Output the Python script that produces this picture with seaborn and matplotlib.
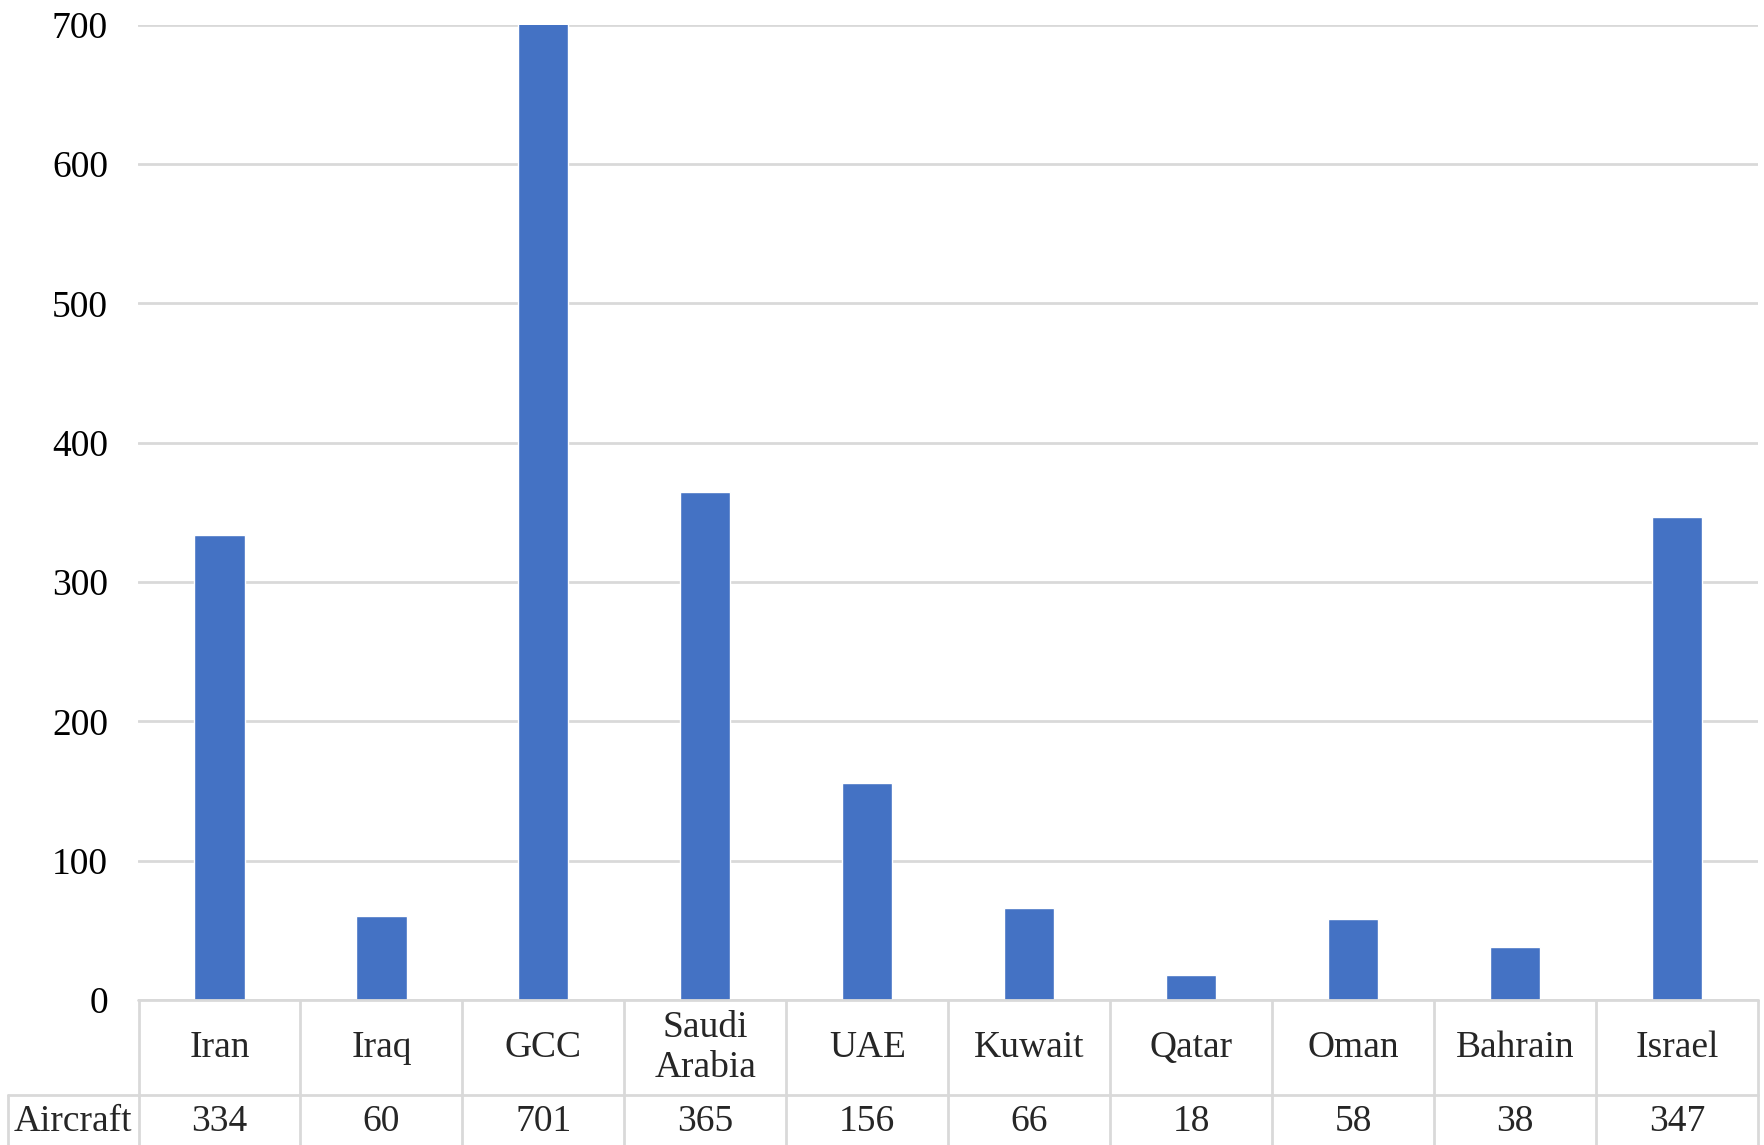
import matplotlib
matplotlib.use("Agg")
import matplotlib.pyplot as plt
import matplotlib.transforms as mtransforms
from matplotlib.lines import Line2D
import seaborn as sns
import pandas as pd

# Aircraft counts by country / group
countries = ["Iran", "Iraq", "GCC", "Saudi\nArabia", "UAE", "Kuwait", "Qatar", "Oman", "Bahrain", "Israel"]
aircraft = [334, 60, 701, 365, 156, 66, 18, 58, 38, 347]
row_label = "Aircraft"
y_ticks = [0, 100, 200, 300, 400, 500, 600, 700]

sns.set_theme(style="white")
plt.rcParams["font.family"] = ["Liberation Serif", "DejaVu Serif"]

W, H = 1765, 1145
fig = plt.figure(figsize=(W / 100, H / 100), dpi=100)

left_px, right_px = 138.5, 1758
top_px, axis_px = 24.8, 1000
row_split_px = 1095
ax = fig.add_axes([left_px / W, 1 - axis_px / H, (right_px - left_px) / W, (axis_px - top_px) / H])

df = pd.DataFrame({"country": countries, "aircraft": aircraft})
sns.barplot(data=df, x="country", y="aircraft", color="#4472C4", width=0.31,
            saturation=1, ax=ax, zorder=3)

fs = 27
ax.set_xlim(-0.5, len(countries) - 0.5)
ax.set_ylim(0, 700)
ax.set_yticks(y_ticks)
ax.set_yticklabels([str(v) for v in y_ticks], fontsize=fs, color="black")
ax.tick_params(axis="y", length=0, pad=22)
ax.set_xticks([])
ax.set_xlabel("")
ax.set_ylabel("")
ax.grid(axis="y", color="#d9d9d9", linewidth=2)
ax.set_axisbelow(True)
for s in ["left", "right", "top", "bottom"]:
    ax.spines[s].set_visible(False)

# Data table beneath the bars
grid_color = "#d9d9d9"
lw = 2
fy = lambda px: 1 - px / H
fx = lambda px: px / W
blend = mtransforms.blended_transform_factory(ax.transData, fig.transFigure)

# horizontal rules
fig.add_artist(Line2D([fx(left_px), fx(right_px)], [fy(axis_px), fy(axis_px)],
                      color=grid_color, lw=lw, zorder=5))
fig.add_artist(Line2D([fx(8), fx(right_px)], [fy(row_split_px), fy(row_split_px)],
                      color=grid_color, lw=lw))
# vertical rules
for i in range(len(countries) + 1):
    x = i - 0.5
    fig.add_artist(Line2D([x, x], [fy(axis_px), 0], transform=blend, color=grid_color, lw=lw))
fig.add_artist(Line2D([fx(8), fx(8)], [fy(row_split_px), 0], color=grid_color, lw=lw))

cat_y = fy((axis_px + row_split_px) / 2)
val_y = fy((row_split_px + H + 3) / 2)
for i, (c, v) in enumerate(zip(countries, aircraft)):
    fig.text(i, cat_y, c, transform=blend, ha="center", va="center",
             fontsize=fs, linespacing=1.2)
    fig.text(i, val_y, str(v), transform=blend, ha="center", va="center", fontsize=fs)
fig.text(fx((8 + left_px) / 2), val_y, row_label, ha="center", va="center", fontsize=fs)

fig.savefig("out.png", dpi=100, facecolor="white")
